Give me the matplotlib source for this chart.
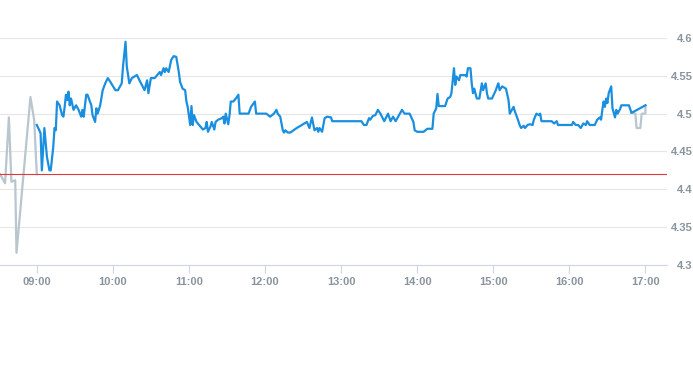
import matplotlib
matplotlib.use("Agg")
import matplotlib.pyplot as plt
import matplotlib.dates as mdates
import pandas as pd

DAY = "2024-01-02 "

# Pre-open (gray) series
pre_times = ["08:31", "08:35", "08:38", "08:40", "08:43", "08:44", "08:55", "08:58", "09:00"]
pre_values = [4.420, 4.408, 4.495, 4.410, 4.412, 4.316, 4.522, 4.491, 4.420]

# Closing (gray) series
end_times = ["16:49", "16:52", "16:53", "16:56", "16:57", "17:00", "17:00"]
end_values = [4.501, 4.500, 4.481, 4.481, 4.500, 4.500, 4.511]

# Intraday price (blue)
price_times = [
    "09:00", "09:02", "09:03", "09:04", "09:06", "09:08", "09:10", "09:11", "09:13", "09:14",
    "09:15", "09:16", "09:18", "09:20", "09:21", "09:22", "09:23", "09:24", "09:25", "09:26",
    "09:27", "09:29", "09:31", "09:33", "09:35", "09:36", "09:37", "09:39", "09:40", "09:43",
    "09:44", "09:46", "09:47", "09:48", "09:50", "09:52", "09:54", "09:56", "09:58", "10:02",
    "10:04", "10:07", "10:08", "10:10", "10:11", "10:13", "10:15", "10:19", "10:21", "10:25",
    "10:27", "10:28", "10:30", "10:33", "10:37", "10:38", "10:40", "10:41", "10:42", "10:44",
    "10:46", "10:48", "10:50", "10:52", "10:53", "10:55", "10:57", "10:58", "10:59", "11:01",
    "11:02", "11:03", "11:04", "11:06", "11:09", "11:11", "11:13", "11:14", "11:15", "11:17",
    "11:18", "11:20", "11:21", "11:23", "11:26", "11:27", "11:28", "11:29", "11:31", "11:32",
    "11:33", "11:35", "11:37", "11:39", "11:40", "11:47", "11:49", "11:52", "11:53", "12:01",
    "12:04", "12:07", "12:09", "12:10", "12:12", "12:14", "12:15", "12:16", "12:18", "12:20",
    "12:25", "12:33", "12:35", "12:37", "12:39", "12:41", "12:42", "12:43", "12:45", "12:47",
    "12:49", "12:52", "12:53", "13:16", "13:18", "13:20", "13:22", "13:23", "13:25", "13:27",
    "13:29", "13:31", "13:34", "13:37", "13:39", "13:41", "13:43", "13:45", "13:48", "13:50",
    "13:54", "13:57", "13:58", "14:00", "14:05", "14:08", "14:12", "14:13", "14:15", "14:16",
    "14:17", "14:22", "14:24", "14:26", "14:27", "14:29", "14:30", "14:31", "14:33", "14:34",
    "14:38", "14:39", "14:40", "14:42", "14:43", "14:44", "14:45", "14:47", "14:49", "14:51",
    "14:52", "14:54", "14:55", "14:56", "14:59", "15:02", "15:03", "15:04", "15:05", "15:07",
    "15:10", "15:12", "15:13", "15:16", "15:17", "15:19", "15:21", "15:22", "15:24", "15:25",
    "15:27", "15:29", "15:31", "15:32", "15:34", "15:36", "15:37", "15:38", "15:46", "15:48",
    "15:50", "15:51", "16:02", "16:03", "16:05", "16:07", "16:09", "16:11", "16:13", "16:14",
    "16:16", "16:20", "16:22", "16:24", "16:25", "16:26", "16:27", "16:28", "16:29", "16:30",
    "16:31", "16:33", "16:34", "16:36", "16:37", "16:38", "16:40", "16:41", "16:47", "16:49",
    "17:00",
]
price_values = [
    4.485, 4.478, 4.474, 4.425, 4.481, 4.443, 4.425, 4.425, 4.456, 4.481,
    4.478, 4.516, 4.511, 4.498, 4.496, 4.509, 4.525, 4.518, 4.529, 4.511,
    4.520, 4.505, 4.511, 4.505, 4.496, 4.505, 4.496, 4.525, 4.525, 4.511,
    4.498, 4.489, 4.507, 4.500, 4.511, 4.531, 4.540, 4.547, 4.542, 4.531,
    4.531, 4.540, 4.562, 4.595, 4.562, 4.540, 4.547, 4.551, 4.544, 4.531,
    4.544, 4.527, 4.547, 4.547, 4.555, 4.551, 4.560, 4.555, 4.560, 4.555,
    4.571, 4.576, 4.575, 4.555, 4.542, 4.533, 4.531, 4.516, 4.509, 4.485,
    4.510, 4.485, 4.498, 4.489, 4.483, 4.479, 4.481, 4.489, 4.476, 4.483,
    4.489, 4.479, 4.489, 4.492, 4.494, 4.496, 4.487, 4.500, 4.486, 4.498,
    4.516, 4.516, 4.520, 4.525, 4.500, 4.500, 4.509, 4.516, 4.500, 4.500,
    4.496, 4.500, 4.505, 4.500, 4.496, 4.478, 4.475, 4.478, 4.475, 4.475,
    4.481, 4.489, 4.481, 4.495, 4.478, 4.481, 4.476, 4.481, 4.476, 4.494,
    4.496, 4.495, 4.490, 4.490, 4.485, 4.485, 4.494, 4.492, 4.497, 4.498,
    4.505, 4.500, 4.490, 4.500, 4.490, 4.496, 4.490, 4.496, 4.505, 4.500,
    4.500, 4.489, 4.478, 4.476, 4.476, 4.480, 4.480, 4.500, 4.507, 4.526,
    4.510, 4.510, 4.520, 4.522, 4.527, 4.560, 4.538, 4.549, 4.544, 4.551,
    4.551, 4.549, 4.560, 4.560, 4.540, 4.527, 4.533, 4.520, 4.520, 4.540,
    4.531, 4.540, 4.527, 4.520, 4.520, 4.531, 4.536, 4.540, 4.531, 4.536,
    4.533, 4.518, 4.500, 4.509, 4.503, 4.494, 4.484, 4.481, 4.484, 4.481,
    4.485, 4.486, 4.485, 4.492, 4.500, 4.498, 4.500, 4.490, 4.490, 4.487,
    4.490, 4.485, 4.485, 4.489, 4.485, 4.485, 4.481, 4.487, 4.485, 4.490,
    4.485, 4.485, 4.492, 4.495, 4.492, 4.505, 4.516, 4.509, 4.520, 4.514,
    4.527, 4.536, 4.507, 4.495, 4.505, 4.500, 4.506, 4.511, 4.511, 4.501,
    4.511,
]

prev_close = 4.42
y_ticks = [4.3, 4.35, 4.4, 4.45, 4.5, 4.55, 4.6]
y_tick_labels = ["4.3", "4.35", "4.4", "4.45", "4.5", "4.55", "4.6"]
x_tick_labels = ["09:00", "10:00", "11:00", "12:00", "13:00", "14:00", "15:00", "16:00", "17:00"]


def to_dt(ts):
    return pd.to_datetime([DAY + t for t in ts])


plt.rcParams["font.family"] = ["Liberation Sans", "DejaVu Sans"]

fig = plt.figure(figsize=(6.93, 3.65), dpi=100)
ax = fig.add_axes([0.0, 0.274, 0.9625, 0.622])

label_color = "#8a949f"
grid_color = "#e6e6e6"

ax.plot(to_dt(pre_times), pre_values, color="#b9c6cf", lw=1.6, zorder=2, solid_joinstyle="round")
ax.plot(to_dt(end_times), end_values, color="#b9c6cf", lw=1.6, zorder=2, solid_joinstyle="round")
ax.plot(to_dt(price_times), price_values, color="#1a8fdf", lw=1.6, zorder=3, solid_joinstyle="round")
ax.axhline(prev_close, color="#e0383c", lw=0.8, zorder=4)

ax.set_ylim(4.3, 4.6)
ax.set_xlim(pd.Timestamp(DAY + "08:31"), pd.Timestamp(DAY + "17:17"))

ax.set_yticks(y_ticks)
ax.set_yticklabels(y_tick_labels)
ax.yaxis.tick_right()
ax.tick_params(axis="y", length=0, pad=18.5, labelcolor=label_color, labelsize=8)
for lab in ax.get_yticklabels():
    lab.set_horizontalalignment("right")

ax.set_xticks(to_dt(x_tick_labels))
ax.set_xticklabels(x_tick_labels)
ax.tick_params(axis="x", length=6, width=0.8, color="#ccd6eb", labelcolor=label_color,
               labelsize=8, pad=3)
for lab in ax.get_xticklabels():
    lab.set_fontweight("bold")
for lab in ax.get_yticklabels():
    lab.set_fontweight("bold")

ax.grid(axis="y", color=grid_color, lw=0.8)
ax.set_axisbelow(True)
for s in ["top", "left", "right"]:
    ax.spines[s].set_visible(False)
ax.spines["bottom"].set_color("#ccd6eb")
ax.spines["bottom"].set_linewidth(0.8)

fig.savefig("out.png", dpi=100)
